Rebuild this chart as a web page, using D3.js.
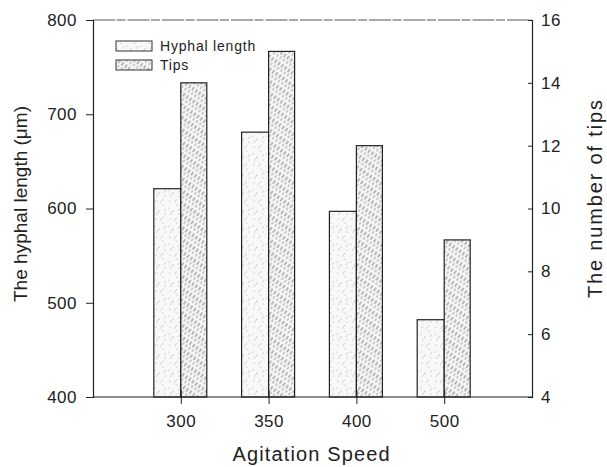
<!DOCTYPE html>
<html>
<head>
<meta charset="utf-8">
<script src="https://cdn.jsdelivr.net/npm/d3@7"></script>
<style>
  html, body { margin: 0; padding: 0; background: #fff; }
  text { font-family: "Liberation Sans", Arial, sans-serif; fill: #222; }
</style>
</head>
<body>
<svg id="chart" width="607" height="467"></svg>
<script>
// data
const speeds = ["300", "350", "400", "500"];
const hyphalLength = [621, 681, 597, 482];   // µm, left axis
const tips = [14, 15, 12, 9];                 // count, right axis
const leftTicks = [400, 500, 600, 700, 800];
const rightTicks = [4, 6, 8, 10, 12, 14, 16];

const width = 607, height = 467;
const plotLeft = 93, plotRight = 532, plotTop = 20, plotBottom = 397;
const barW = 27;

const svg = d3.select("#chart");

// fill patterns
const defs = svg.append("defs");

// light, sparse speckle for hyphal length
const pLight = defs.append("pattern")
    .attr("id", "light")
    .attr("patternUnits", "userSpaceOnUse")
    .attr("width", 14).attr("height", 18);
pLight.append("rect").attr("width", 14).attr("height", 18).attr("fill", "#f8f8f8");
[[2, 3], [9, 7], [5, 13], [11, 16], [1, 10]].forEach(([px, py]) => {
  pLight.append("circle").attr("cx", px).attr("cy", py).attr("r", 0.6).attr("fill", "#aaa");
});
[[6, 5, 9, 1], [2, 17, 5, 13], [10, 13, 12, 10]].forEach(([x1, y1, x2, y2]) => {
  pLight.append("line").attr("x1", x1).attr("y1", y1).attr("x2", x2).attr("y2", y2)
      .attr("stroke", "#c8c8c8").attr("stroke-width", 0.8);
});

// fine diagonal dashes for tips
const pHatch = defs.append("pattern")
    .attr("id", "hatch")
    .attr("patternUnits", "userSpaceOnUse")
    .attr("width", 4).attr("height", 10)
    .attr("patternTransform", "rotate(35)");
pHatch.append("rect").attr("width", 4).attr("height", 10).attr("fill", "#f6f6f6");
pHatch.append("line").attr("x1", 1).attr("y1", 0).attr("x2", 1).attr("y2", 4)
    .attr("stroke", "#6e6e6e").attr("stroke-width", 0.9);
pHatch.append("line").attr("x1", 3).attr("y1", 5).attr("x2", 3).attr("y2", 8)
    .attr("stroke", "#8a8a8a").attr("stroke-width", 0.8);

// scales
const x = d3.scalePoint().domain(speeds).range([plotLeft, plotRight]).padding(1);
const yL = d3.scaleLinear().domain([400, 800]).range([plotBottom, plotTop]);
const yR = d3.scaleLinear().domain([4, 16]).range([plotBottom, plotTop]);

// bars
svg.append("g").selectAll("rect")
  .data(speeds)
  .join("rect")
    .attr("x", (d) => x(d) - barW)
    .attr("y", (d, i) => yL(hyphalLength[i]))
    .attr("width", barW)
    .attr("height", (d, i) => plotBottom - yL(hyphalLength[i]))
    .attr("fill", "url(#light)")
    .attr("stroke", "#222").attr("stroke-width", 1.2);

svg.append("g").selectAll("rect")
  .data(speeds)
  .join("rect")
    .attr("x", (d) => x(d))
    .attr("y", (d, i) => yR(tips[i]))
    .attr("width", barW - 1)
    .attr("height", (d, i) => plotBottom - yR(tips[i]))
    .attr("fill", "url(#hatch)")
    .attr("stroke", "#222").attr("stroke-width", 1.2);

// top frame line
svg.append("line")
    .attr("x1", plotLeft).attr("x2", plotRight).attr("y1", plotTop).attr("y2", plotTop)
    .attr("stroke", "#555").attr("stroke-width", 1)
    .attr("stroke-dasharray", "22 1.5 9 2");

// axes
const axL = svg.append("g")
    .attr("transform", `translate(${plotLeft},0)`)
    .call(d3.axisLeft(yL).tickValues(leftTicks).tickSizeOuter(0).tickSize(7).tickPadding(9));
const axR = svg.append("g")
    .attr("transform", `translate(${plotRight},0)`)
    .call(d3.axisRight(yR).tickValues(rightTicks).tickSizeOuter(0).tickSize(-4).tickPadding(9));
const axB = svg.append("g")
    .attr("transform", `translate(0,${plotBottom})`)
    .call(d3.axisBottom(x).tickSizeOuter(0).tickSize(7).tickPadding(11));
axB.selectAll(".tick line").attr("y1", -7);
axB.select(".domain").attr("d", `M${plotLeft},0H${plotRight}`);

[axL, axR, axB].forEach((g) => {
  g.selectAll("path.domain").attr("stroke", "#222").attr("stroke-width", 1.2);
  g.selectAll(".tick line").attr("stroke", "#222");
  g.selectAll(".tick text")
    .style("font-size", "17px")
    .style("letter-spacing", "0.5px")
    .attr("fill", "#222");
});

// axis titles
svg.append("text")
    .attr("x", 311).attr("y", 461)
    .attr("text-anchor", "middle")
    .attr("textLength", 157).attr("lengthAdjust", "spacing")
    .style("font-size", "20px")
    .text("Agitation Speed");

svg.append("text")
    .attr("transform", "translate(27,204) rotate(-90)")
    .attr("text-anchor", "middle")
    .attr("textLength", 196).attr("lengthAdjust", "spacing")
    .style("font-size", "19px")
    .text("The hyphal length (\u03bcm)");

svg.append("text")
    .attr("transform", "translate(602,199) rotate(-90)")
    .attr("text-anchor", "middle")
    .attr("textLength", 198).attr("lengthAdjust", "spacing")
    .style("font-size", "20px")
    .text("The number of tips");

// legend
const legend = svg.append("g");
const items = [
  { label: "Hyphal length", fill: "url(#light)" },
  { label: "Tips", fill: "url(#hatch)" }
];
legend.selectAll("rect")
  .data(items)
  .join("rect")
    .attr("x", 116).attr("y", (d, i) => 41 + i * 19)
    .attr("width", 36).attr("height", 10)
    .attr("fill", (d) => d.fill)
    .attr("stroke", "#333").attr("stroke-width", 1);
legend.selectAll("text")
  .data(items)
  .join("text")
    .attr("x", 160).attr("y", (d, i) => 51 + i * 19)
    .style("font-size", "14px").style("letter-spacing", "0.8px")
    .text((d) => d.label);
</script>
</body>
</html>
